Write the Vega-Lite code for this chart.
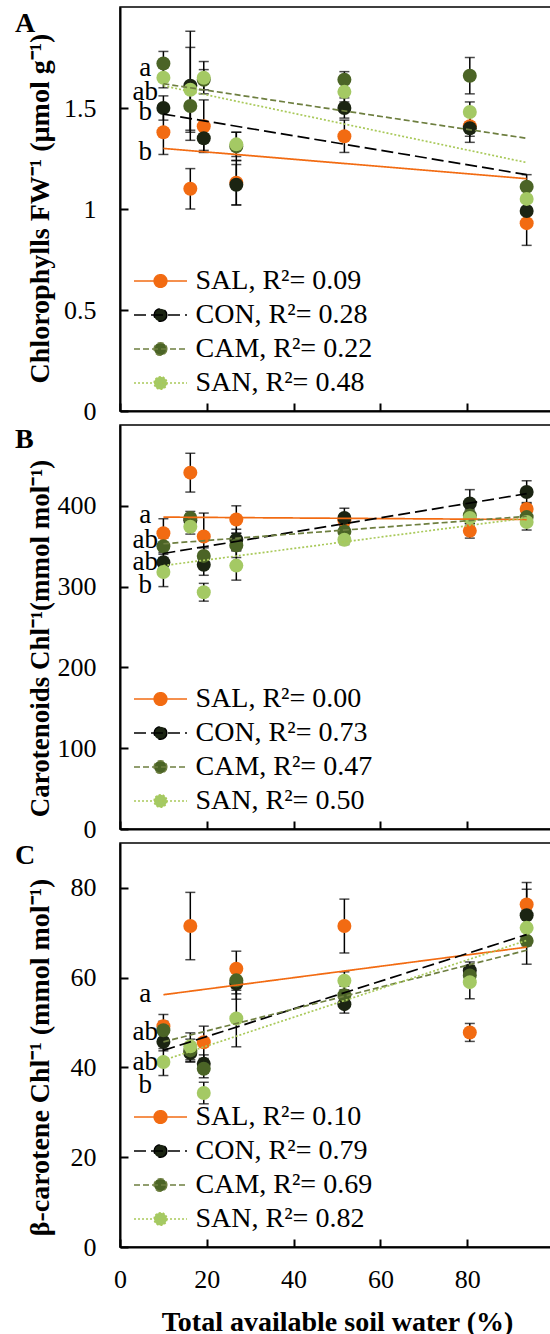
{
  "$schema": "https://vega.github.io/schema/vega-lite/v6.json",
  "background": "white",
  "padding": {"left": 14, "top": 6, "right": 0, "bottom": 0},
  "spacing": -12,
  "config": {
    "view": {"stroke": "black", "strokeWidth": 1.5},
    "font": "Liberation Serif",
    "axis": {
      "labelFont": "Liberation Serif", "labelFontSize": 26, "labelColor": "black",
      "titleFont": "Liberation Serif", "titleFontSize": 28, "titleFontWeight": "bold", "titleColor": "black",
      "domainColor": "black", "domainWidth": 2, "tickColor": "black", "tickWidth": 2, "tickSize": -8,
      "grid": false, "labelOverlap": false, "labelFlush": false
    },
    "axisX": {"labelPadding": 27, "titlePadding": 16},
    "axisY": {"labelPadding": 32},
    "legend": {
      "labelFont": "Liberation Serif", "labelFontSize": 28, "labelColor": "black", "labelLimit": 400,
      "padding": 0, "rowPadding": 6, "symbolSize": 702, "symbolStrokeWidth": 1.5,
      "symbolType": "M-2,0H2M0.48,0A0.48,0.48,0,1,1,-0.48,0A0.48,0.48,0,1,1,0.48,0",
      "symbolOffset": 12.5, "labelOffset": 21, "orient": "bottom-left", "offset": 14
    },
    "title": {"anchor": "start", "frame": "group", "font": "Liberation Serif", "fontSize": 28, "fontWeight": "bold", "color": "black", "dx": -105, "offset": 0, "baseline": "alphabetic"}
  },
  "resolve": {
    "scale": {"color": "independent", "stroke": "independent", "strokeDash": "independent"},
    "legend": {"color": "independent", "stroke": "independent", "strokeDash": "independent"}
  },
  "datasets": {
    "ptsA": [
      {"s": "SAL", "x": 10, "y": 1.38, "e": 0.11}, {"s": "CON", "x": 10, "y": 1.50, "e": 0.06}, {"s": "CAM", "x": 10, "y": 1.72, "e": 0.06}, {"s": "SAN", "x": 10, "y": 1.65, "e": 0.05},
      {"s": "SAL", "x": 16.2, "y": 1.10, "e": 0.10}, {"s": "CON", "x": 16.2, "y": 1.61, "e": 0.27}, {"s": "CAM", "x": 16.2, "y": 1.51, "e": 0.12}, {"s": "SAN", "x": 16.2, "y": 1.59, "e": 0.21},
      {"s": "SAL", "x": 19.3, "y": 1.41, "e": 0.13}, {"s": "CON", "x": 19.3, "y": 1.35, "e": 0.06}, {"s": "CAM", "x": 19.3, "y": 1.64, "e": 0.05}, {"s": "SAN", "x": 19.3, "y": 1.65, "e": 0.08},
      {"s": "SAL", "x": 26.8, "y": 1.13, "e": 0.11}, {"s": "CON", "x": 26.8, "y": 1.12, "e": 0.10}, {"s": "CAM", "x": 26.8, "y": 1.31, "e": 0.07}, {"s": "SAN", "x": 26.8, "y": 1.32, "e": 0.06},
      {"s": "SAL", "x": 51.7, "y": 1.36, "e": 0.08}, {"s": "CON", "x": 51.7, "y": 1.50, "e": 0.05}, {"s": "CAM", "x": 51.7, "y": 1.64, "e": 0.04}, {"s": "SAN", "x": 51.7, "y": 1.58, "e": 0.05},
      {"s": "SAL", "x": 80.6, "y": 1.41, "e": 0.05}, {"s": "CON", "x": 80.6, "y": 1.40, "e": 0.07}, {"s": "CAM", "x": 80.6, "y": 1.66, "e": 0.09}, {"s": "SAN", "x": 80.6, "y": 1.48, "e": 0.05},
      {"s": "SAL", "x": 93.7, "y": 0.93, "e": 0.11}, {"s": "CON", "x": 93.7, "y": 0.99, "e": 0.06}, {"s": "CAM", "x": 93.7, "y": 1.11, "e": 0.06}, {"s": "SAN", "x": 93.7, "y": 1.05, "e": 0.05}
    ],
    "fitA": [
      {"s": "SAL", "x": 10, "y": 1.30}, {"s": "SAL", "x": 93.7, "y": 1.15},
      {"s": "CON", "x": 10, "y": 1.47}, {"s": "CON", "x": 93.7, "y": 1.17},
      {"s": "CAM", "x": 10, "y": 1.62}, {"s": "CAM", "x": 93.7, "y": 1.35},
      {"s": "SAN", "x": 10, "y": 1.61}, {"s": "SAN", "x": 93.7, "y": 1.23}
    ],
    "letA": [
      {"t": "a", "x": 5.8, "y": 1.70}, {"t": "ab", "x": 5.8, "y": 1.58}, {"t": "b", "x": 5.8, "y": 1.48}, {"t": "b", "x": 5.8, "y": 1.28}
    ],
    "ptsB": [
      {"s": "SAL", "x": 10, "y": 366, "e": 18}, {"s": "CON", "x": 10, "y": 330, "e": 12}, {"s": "CAM", "x": 10, "y": 350, "e": 10}, {"s": "SAN", "x": 10, "y": 318, "e": 18},
      {"s": "SAL", "x": 16.2, "y": 441, "e": 24}, {"s": "CON", "x": 16.2, "y": 382, "e": 8}, {"s": "CAM", "x": 16.2, "y": 385, "e": 8}, {"s": "SAN", "x": 16.2, "y": 374, "e": 9},
      {"s": "SAL", "x": 19.3, "y": 362, "e": 29}, {"s": "CON", "x": 19.3, "y": 327, "e": 13}, {"s": "CAM", "x": 19.3, "y": 338, "e": 10}, {"s": "SAN", "x": 19.3, "y": 293, "e": 11},
      {"s": "SAL", "x": 26.8, "y": 383, "e": 17}, {"s": "CON", "x": 26.8, "y": 358, "e": 13}, {"s": "CAM", "x": 26.8, "y": 351, "e": 15}, {"s": "SAN", "x": 26.8, "y": 326, "e": 18},
      {"s": "SAL", "x": 51.7, "y": 382, "e": 8}, {"s": "CON", "x": 51.7, "y": 385, "e": 12}, {"s": "CAM", "x": 51.7, "y": 368, "e": 8}, {"s": "SAN", "x": 51.7, "y": 358, "e": 6},
      {"s": "SAL", "x": 80.6, "y": 369, "e": 9}, {"s": "CON", "x": 80.6, "y": 403, "e": 17}, {"s": "CAM", "x": 80.6, "y": 388, "e": 10}, {"s": "SAN", "x": 80.6, "y": 385, "e": 10},
      {"s": "SAL", "x": 93.7, "y": 396, "e": 8}, {"s": "CON", "x": 93.7, "y": 417, "e": 14}, {"s": "CAM", "x": 93.7, "y": 386, "e": 10}, {"s": "SAN", "x": 93.7, "y": 380, "e": 10}
    ],
    "fitB": [
      {"s": "SAL", "x": 10, "y": 386}, {"s": "SAL", "x": 93.7, "y": 383},
      {"s": "CON", "x": 10, "y": 341}, {"s": "CON", "x": 93.7, "y": 415},
      {"s": "CAM", "x": 10, "y": 353}, {"s": "CAM", "x": 93.7, "y": 387},
      {"s": "SAN", "x": 10, "y": 326}, {"s": "SAN", "x": 93.7, "y": 385}
    ],
    "letB": [
      {"t": "a", "x": 5.8, "y": 389}, {"t": "ab", "x": 5.8, "y": 358}, {"t": "ab", "x": 5.8, "y": 331}, {"t": "b", "x": 5.8, "y": 302}
    ],
    "ptsC": [
      {"s": "SAL", "x": 10, "y": 49.2, "e": 2.6}, {"s": "CON", "x": 10, "y": 45.7, "e": 2}, {"s": "CAM", "x": 10, "y": 48.3, "e": 2}, {"s": "SAN", "x": 10, "y": 41.2, "e": 3},
      {"s": "SAL", "x": 16.2, "y": 71.5, "e": 7.5}, {"s": "CON", "x": 16.2, "y": 43.2, "e": 2}, {"s": "CAM", "x": 16.2, "y": 43.8, "e": 2.5}, {"s": "SAN", "x": 16.2, "y": 44.7, "e": 3},
      {"s": "SAL", "x": 19.3, "y": 45.6, "e": 3.6}, {"s": "CON", "x": 19.3, "y": 40.8, "e": 2}, {"s": "CAM", "x": 19.3, "y": 39.7, "e": 2}, {"s": "SAN", "x": 19.3, "y": 34.3, "e": 2.4},
      {"s": "SAL", "x": 26.8, "y": 62.0, "e": 3.9}, {"s": "CON", "x": 26.8, "y": 58.7, "e": 3.5}, {"s": "CAM", "x": 26.8, "y": 59.4, "e": 3}, {"s": "SAN", "x": 26.8, "y": 50.9, "e": 6.3},
      {"s": "SAL", "x": 51.7, "y": 71.5, "e": 6}, {"s": "CON", "x": 51.7, "y": 54.1, "e": 2}, {"s": "CAM", "x": 51.7, "y": 56.1, "e": 2}, {"s": "SAN", "x": 51.7, "y": 59.3, "e": 2},
      {"s": "SAL", "x": 80.6, "y": 47.8, "e": 2}, {"s": "CON", "x": 80.6, "y": 61.6, "e": 1.9}, {"s": "CAM", "x": 80.6, "y": 60.5, "e": 2}, {"s": "SAN", "x": 80.6, "y": 59.0, "e": 3.7},
      {"s": "SAL", "x": 93.7, "y": 76.3, "e": 4.9}, {"s": "CON", "x": 93.7, "y": 73.9, "e": 5.8}, {"s": "CAM", "x": 93.7, "y": 68.2, "e": 5.2}, {"s": "SAN", "x": 93.7, "y": 71.1, "e": 4}
    ],
    "fitC": [
      {"s": "SAL", "x": 10, "y": 56.2}, {"s": "SAL", "x": 93.7, "y": 66.8},
      {"s": "CON", "x": 10, "y": 43.8}, {"s": "CON", "x": 93.7, "y": 69.6},
      {"s": "CAM", "x": 10, "y": 45.7}, {"s": "CAM", "x": 93.7, "y": 66.1},
      {"s": "SAN", "x": 10, "y": 41.6}, {"s": "SAN", "x": 93.7, "y": 68.3}
    ],
    "letC": [
      {"t": "a", "x": 5.8, "y": 56.3}, {"t": "ab", "x": 5.8, "y": 47.8}, {"t": "ab", "x": 5.8, "y": 41.2}, {"t": "b", "x": 5.8, "y": 36.0}
    ]
  },
  "vconcat": [
    {
      "width": 434, "height": 404,
      "title": {"text": "A", "dy": 35},
      "encoding": {
        "x": {"field": "x", "type": "quantitative", "scale": {"domain": [0, 100]}, "axis": {"labels": false, "title": null, "values": [0, 20, 40, 60, 80]}},
        "y": {"field": "y", "type": "quantitative", "scale": {"domain": [0, 2]}, "axis": {"title": "Chlorophylls FW⁻¹ (µmol g⁻¹)", "values": [0, 0.5, 1, 1.5], "format": "~g", "titleX": -66, "titleY": 201}}
      },
      "layer": [
        {"data": {"name": "ptsA"}, "mark": {"type": "errorbar", "color": "black", "ticks": {"size": 10, "thickness": 1.5}, "rule": {"strokeWidth": 1.5}}, "encoding": {"yError": {"field": "e"}}},
        {"data": {"name": "ptsA"}, "mark": {"type": "point", "filled": true, "shape": "circle", "size": 196, "opacity": 1, "strokeWidth": 0},
         "encoding": {"color": {"field": "s", "type": "nominal", "scale": {"domain": ["SAL", "CON", "CAM", "SAN"], "range": ["#f26b12", "#1b2412", "#4b6426", "#a4c964"]},
           "legend": {"title": null, "labelExpr": "datum.label == 'SAL' ? 'SAL, R²= 0.09' : datum.label == 'CON' ? 'CON, R²= 0.28' : datum.label == 'CAM' ? 'CAM, R²= 0.22' : 'SAN, R²= 0.48'",
             "encode": {"symbols": {
               "fill": {"value": {"expr": "datum.value == 'SAL' ? '#f26b12' : datum.value == 'CON' ? '#1b2412' : datum.value == 'CAM' ? '#4b6426' : '#a4c964'"}},
               "stroke": {"value": {"expr": "datum.value == 'SAL' ? '#f26b12' : datum.value == 'CON' ? '#000000' : datum.value == 'CAM' ? '#6e7f40' : '#a9c95a'"}},
               "strokeDash": {"value": {"expr": "datum.value == 'SAL' ? [1,0] : datum.value == 'CON' ? [12,5] : datum.value == 'CAM' ? [6,3] : [2,2]"}},
               "strokeWidth": {"value": 1.5}, "opacity": {"value": 1}, "size": {"value": 702}}}}}}},
        {"data": {"name": "fitA"}, "mark": {"type": "line", "strokeWidth": 1.7},
         "encoding": {
           "stroke": {"field": "s", "type": "nominal", "scale": {"domain": ["SAL", "CON", "CAM", "SAN"], "range": ["#f26b12", "#000000", "#6e7f40", "#a9c95a"]}, "legend": null},
           "strokeDash": {"field": "s", "type": "nominal", "scale": {"domain": ["SAL", "CON", "CAM", "SAN"], "range": [[1, 0], [12, 5], [6, 3], [2, 2]]}, "legend": null}}},
        {"data": {"name": "letA"}, "mark": {"type": "text", "font": "Liberation Serif", "fontSize": 27, "color": "black", "align": "center", "baseline": "middle"}, "encoding": {"text": {"field": "t"}}}
      ]
    },
    {
      "width": 434, "height": 404,
      "title": {"text": "B", "dy": 33},
      "encoding": {
        "x": {"field": "x", "type": "quantitative", "scale": {"domain": [0, 100]}, "axis": {"labels": false, "title": null, "values": [0, 20, 40, 60, 80]}},
        "y": {"field": "y", "type": "quantitative", "scale": {"domain": [0, 500]}, "axis": {"title": "Carotenoids Chl⁻¹(mmol mol⁻¹)", "values": [0, 100, 200, 300, 400], "titleX": -66, "titleY": 213, "titleFontSize": 27}}
      },
      "layer": [
        {"data": {"name": "ptsB"}, "mark": {"type": "errorbar", "color": "black", "ticks": {"size": 10, "thickness": 1.5}, "rule": {"strokeWidth": 1.5}}, "encoding": {"yError": {"field": "e"}}},
        {"data": {"name": "ptsB"}, "mark": {"type": "point", "filled": true, "shape": "circle", "size": 196, "opacity": 1, "strokeWidth": 0},
         "encoding": {"color": {"field": "s", "type": "nominal", "scale": {"domain": ["SAL", "CON", "CAM", "SAN"], "range": ["#f26b12", "#1b2412", "#4b6426", "#a4c964"]},
           "legend": {"title": null, "labelExpr": "datum.label == 'SAL' ? 'SAL, R²= 0.00' : datum.label == 'CON' ? 'CON, R²= 0.73' : datum.label == 'CAM' ? 'CAM, R²= 0.47' : 'SAN, R²= 0.50'",
             "encode": {"symbols": {
               "fill": {"value": {"expr": "datum.value == 'SAL' ? '#f26b12' : datum.value == 'CON' ? '#1b2412' : datum.value == 'CAM' ? '#4b6426' : '#a4c964'"}},
               "stroke": {"value": {"expr": "datum.value == 'SAL' ? '#f26b12' : datum.value == 'CON' ? '#000000' : datum.value == 'CAM' ? '#6e7f40' : '#a9c95a'"}},
               "strokeDash": {"value": {"expr": "datum.value == 'SAL' ? [1,0] : datum.value == 'CON' ? [12,5] : datum.value == 'CAM' ? [6,3] : [2,2]"}},
               "strokeWidth": {"value": 1.5}, "opacity": {"value": 1}, "size": {"value": 702}}}}}}},
        {"data": {"name": "fitB"}, "mark": {"type": "line", "strokeWidth": 1.7},
         "encoding": {
           "stroke": {"field": "s", "type": "nominal", "scale": {"domain": ["SAL", "CON", "CAM", "SAN"], "range": ["#f26b12", "#000000", "#6e7f40", "#a9c95a"]}, "legend": null},
           "strokeDash": {"field": "s", "type": "nominal", "scale": {"domain": ["SAL", "CON", "CAM", "SAN"], "range": [[1, 0], [12, 5], [6, 3], [2, 2]]}, "legend": null}}},
        {"data": {"name": "letB"}, "mark": {"type": "text", "font": "Liberation Serif", "fontSize": 27, "color": "black", "align": "center", "baseline": "middle"}, "encoding": {"text": {"field": "t"}}}
      ]
    },
    {
      "width": 434, "height": 404,
      "title": {"text": "C", "dy": 31},
      "encoding": {
        "x": {"field": "x", "type": "quantitative", "scale": {"domain": [0, 100]}, "axis": {"title": "Total available soil water (%)", "values": [0, 20, 40, 60, 80]}},
        "y": {"field": "y", "type": "quantitative", "scale": {"domain": [0, 90]}, "axis": {"title": "β-carotene Chl⁻¹ (mmol mol⁻¹)", "values": [0, 20, 40, 60, 80], "titleX": -66, "titleY": 214}}
      },
      "layer": [
        {"data": {"name": "ptsC"}, "mark": {"type": "errorbar", "color": "black", "ticks": {"size": 10, "thickness": 1.5}, "rule": {"strokeWidth": 1.5}}, "encoding": {"yError": {"field": "e"}}},
        {"data": {"name": "ptsC"}, "mark": {"type": "point", "filled": true, "shape": "circle", "size": 196, "opacity": 1, "strokeWidth": 0},
         "encoding": {"color": {"field": "s", "type": "nominal", "scale": {"domain": ["SAL", "CON", "CAM", "SAN"], "range": ["#f26b12", "#1b2412", "#4b6426", "#a4c964"]},
           "legend": {"title": null, "labelExpr": "datum.label == 'SAL' ? 'SAL, R²= 0.10' : datum.label == 'CON' ? 'CON, R²= 0.79' : datum.label == 'CAM' ? 'CAM, R²= 0.69' : 'SAN, R²= 0.82'",
             "encode": {"symbols": {
               "fill": {"value": {"expr": "datum.value == 'SAL' ? '#f26b12' : datum.value == 'CON' ? '#1b2412' : datum.value == 'CAM' ? '#4b6426' : '#a4c964'"}},
               "stroke": {"value": {"expr": "datum.value == 'SAL' ? '#f26b12' : datum.value == 'CON' ? '#000000' : datum.value == 'CAM' ? '#6e7f40' : '#a9c95a'"}},
               "strokeDash": {"value": {"expr": "datum.value == 'SAL' ? [1,0] : datum.value == 'CON' ? [12,5] : datum.value == 'CAM' ? [6,3] : [2,2]"}},
               "strokeWidth": {"value": 1.5}, "opacity": {"value": 1}, "size": {"value": 702}}}}}}},
        {"data": {"name": "fitC"}, "mark": {"type": "line", "strokeWidth": 1.7},
         "encoding": {
           "stroke": {"field": "s", "type": "nominal", "scale": {"domain": ["SAL", "CON", "CAM", "SAN"], "range": ["#f26b12", "#000000", "#6e7f40", "#a9c95a"]}, "legend": null},
           "strokeDash": {"field": "s", "type": "nominal", "scale": {"domain": ["SAL", "CON", "CAM", "SAN"], "range": [[1, 0], [12, 5], [6, 3], [2, 2]]}, "legend": null}}},
        {"data": {"name": "letC"}, "mark": {"type": "text", "font": "Liberation Serif", "fontSize": 27, "color": "black", "align": "center", "baseline": "middle"}, "encoding": {"text": {"field": "t"}}}
      ]
    }
  ]
}
